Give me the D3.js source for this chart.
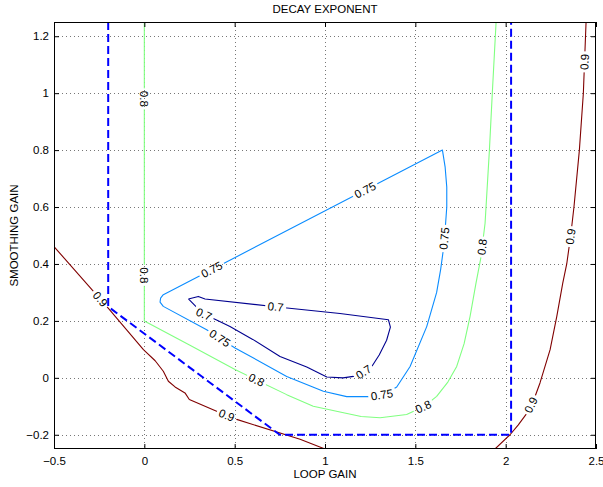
<!DOCTYPE html>
<html>
<head>
<meta charset="utf-8">
<script src="https://cdn.jsdelivr.net/npm/d3@7"></script>
<style>
  body { margin: 0; background: #fff; }
  svg { display: block; font-family: "Liberation Sans", Arial, Helvetica, sans-serif; }
</style>
</head>
<body>
<svg id="chart" width="603" height="487"></svg>
<script>
// axis ticks
const xTicks = [-0.5, 0, 0.5, 1, 1.5, 2, 2.5];
const yTicks = [-0.2, 0, 0.2, 0.4, 0.6, 0.8, 1, 1.2];

// contour levels, each line is a list of [loop gain, smoothing gain]
const contour07 = [[0.244,0.277],[0.299,0.286],[0.336,0.277],[0.75,0.248],[1.083,0.226],[1.351,0.204],
  [1.362,0.178],[1.341,0.132],[1.30,0.08],[1.259,0.04],[1.212,0.02],[1.157,0.005],[1.10,0.0],[1.01,0.003],
  [0.899,0.038],[0.751,0.075],[0.60,0.135],[0.474,0.18],[0.40,0.203],[0.327,0.224],[0.244,0.277]];

const contour075 = [[0.105,0.292],[1.65,0.80],[1.665,0.74],[1.674,0.67],[1.674,0.60],[1.665,0.52],
  [1.655,0.45],[1.64,0.38],[1.618,0.30],[1.563,0.18],[1.471,0.04],[1.397,-0.032],[1.33,-0.058],
  [1.249,-0.066],[1.12,-0.066],[0.991,-0.047],[0.788,0.005],[0.502,0.105],[0.345,0.169],[0.105,0.251],
  [0.087,0.266],[0.09,0.28],[0.105,0.292]];

const contour08 = [[0,1.25],[0,0.2],[0.25,0.115],[0.502,0.029],[0.788,-0.059],[0.935,-0.1],[1.083,-0.12],
  [1.2,-0.136],[1.305,-0.14],[1.452,-0.129],[1.55,-0.1],[1.618,-0.065],[1.68,-0.015],[1.729,0.04],
  [1.77,0.12],[1.803,0.216],[1.835,0.33],[1.862,0.42],[1.886,0.543],[1.91,0.80],[1.926,1.0],[1.947,1.25]];

const contour09Left = [[-0.5,0.461],[-0.2,0.245],[-0.005,0.099],[0.06,0.06],[0.105,0.023],[0.133,-0.012],
  [0.17,-0.032],[0.225,-0.053],[0.249,-0.076],[0.40,-0.117],[0.511,-0.146],[0.862,-0.216],[1.0,-0.25]];

const contour09Right = [[1.941,-0.25],[2.024,-0.2],[2.07,-0.165],[2.117,-0.125],[2.16,-0.07],[2.19,-0.018],
  [2.246,0.099],[2.283,0.216],[2.316,0.333],[2.338,0.40],[2.36,0.50],[2.378,0.60],[2.408,0.80],
  [2.43,1.0],[2.445,1.25]];

// where the inline level labels sit
const labels07 = [[0.336,0.232],[0.727,0.25],[1.212,0.022]];
const labels075 = [[0.373,0.38],[1.222,0.66],[1.652,0.49],[1.314,-0.057],[0.419,0.14]];
const labels08 = [[0,0.98],[0,0.36],[0.622,-0.006],[1.544,-0.102],[1.867,0.46]];
const labels09 = [[-0.249,0.274],[0.456,-0.131],[2.139,-0.095],[2.36,0.496],[2.434,1.11]];

// stability boundary (dashed)
const boundary = [[-0.2,1.25],[-0.2,0.25],[0.75,-0.2],[2.03,-0.2],[2.03,1.25]];

const levels = [0.7, 0.75, 0.8, 0.9];
const levelColors = ["#00008f", "#0a8cff", "#80ff80", "#800000"];
const levelLines = [[contour07], [contour075], [contour08], [contour09Left, contour09Right]];
const levelLabels = [labels07, labels075, labels08, labels09];

const W = 603, H = 487;
const margin = {top: 22, right: 7, bottom: 38, left: 54};
const fontSize = 11.5;

const svg = d3.select("#chart");

const x = d3.scaleLinear().domain([-0.5, 2.5]).range([margin.left, W - margin.right]);
const y = d3.scaleLinear().domain([-0.25, 1.25]).range([H - margin.bottom, margin.top]);

const defs = svg.append("defs");
defs.append("clipPath").attr("id", "plotClip")
    .append("rect")
    .attr("x", margin.left).attr("y", margin.top)
    .attr("width", W - margin.left - margin.right)
    .attr("height", H - margin.top - margin.bottom);

// dotted grid
const grid = svg.append("g")
    .attr("stroke", "#777")
    .attr("stroke-width", 1)
    .attr("stroke-dasharray", "1,3");
grid.selectAll("line.gx")
    .data(xTicks.slice(1, -1))
    .join("line")
    .attr("x1", d => Math.round(x(d)) + 0.5).attr("x2", d => Math.round(x(d)) + 0.5)
    .attr("y1", margin.top).attr("y2", H - margin.bottom);
grid.selectAll("line.gy")
    .data(yTicks)
    .join("line")
    .attr("y1", d => Math.round(y(d)) + 0.5).attr("y2", d => Math.round(y(d)) + 0.5)
    .attr("x1", margin.left).attr("x2", W - margin.right);

// mask that cuts gaps in the contour lines under the labels
const mask = defs.append("mask").attr("id", "labelGaps")
    .attr("maskUnits", "userSpaceOnUse")
    .attr("x", 0).attr("y", 0).attr("width", W).attr("height", H);
mask.append("rect").attr("width", W).attr("height", H).attr("fill", "#fff");

const line = d3.line().x(d => x(d[0])).y(d => y(d[1]));

const contourG = svg.append("g")
    .attr("clip-path", "url(#plotClip)")
    .append("g")
    .attr("mask", "url(#labelGaps)");

levels.forEach((lv, i) => {
    contourG.selectAll(null)
        .data(levelLines[i])
        .join("path")
        .attr("d", line)
        .attr("fill", "none")
        .attr("stroke", levelColors[i])
        .attr("stroke-width", 1.1)
        .attr("stroke-linejoin", "round");
});

// boundary
svg.append("path")
    .attr("clip-path", "url(#plotClip)")
    .attr("d", line(boundary))
    .attr("fill", "none")
    .attr("stroke", "#0000ff")
    .attr("stroke-width", 2)
    .attr("stroke-dasharray", "8,4");

/**
 * Snap a label to the nearest segment of the level's lines and get the text angle.
 */
function placeLabel(lines, p) {
    let best = null;
    for (let pts of lines) {
        let px = pts.map(d => [x(d[0]), y(d[1])]);
        for (let k = 0; k < px.length - 1; k++) {
            let a = px[k], b = px[k + 1];
            let dx = b[0] - a[0], dy = b[1] - a[1];
            let len2 = dx * dx + dy * dy;
            let t = len2 ? ((p[0] - a[0]) * dx + (p[1] - a[1]) * dy) / len2 : 0;
            t = Math.max(0, Math.min(1, t));
            let q = [a[0] + t * dx, a[1] + t * dy];
            let dist = (q[0] - p[0]) ** 2 + (q[1] - p[1]) ** 2;
            if (!best || dist < best.dist) best = {dist, q, ang: Math.atan2(dy, dx) * 180 / Math.PI};
        }
    }
    let ang = best.ang;
    if (ang > 90) ang -= 180;
    if (ang <= -90) ang += 180;
    return {x: best.q[0], y: best.q[1], ang};
}

const labelG = svg.append("g")
    .attr("font-size", fontSize)
    .attr("fill", "#000")
    .attr("text-anchor", "middle");

levels.forEach((lv, i) => {
    for (let pos of levelLabels[i]) {
        let pl = placeLabel(levelLines[i], [x(pos[0]), y(pos[1])]);
        let tr = `translate(${pl.x},${pl.y}) rotate(${pl.ang})`;
        let t = labelG.append("text")
            .attr("transform", tr)
            .attr("dy", "0.35em")
            .text(String(lv));
        let w = t.node().getComputedTextLength() + 5;
        mask.append("rect")
            .attr("transform", tr)
            .attr("x", -w / 2).attr("y", -5)
            .attr("width", w).attr("height", 10)
            .attr("fill", "#000");
    }
});

// axes with inward ticks on all four sides
const fmt = d3.format("~g");

function styleAxis(g) {
    g.select(".domain").remove();
    g.attr("font-size", null).attr("font-family", null);
    g.selectAll("line").attr("stroke", "#000");
    g.selectAll("text").attr("fill", "#000").style("font-size", fontSize + "px");
}

svg.append("g")
    .attr("transform", `translate(0,${H - margin.bottom})`)
    .call(d3.axisBottom(x).tickValues(xTicks).tickFormat(fmt).tickSize(-5).tickPadding(8))
    .call(styleAxis);
svg.append("g")
    .attr("transform", `translate(0,${margin.top})`)
    .call(d3.axisTop(x).tickValues(xTicks).tickFormat("").tickSize(-5))
    .call(styleAxis);
svg.append("g")
    .attr("transform", `translate(${margin.left},0)`)
    .call(d3.axisLeft(y).tickValues(yTicks).tickFormat(fmt).tickSize(-5).tickPadding(5))
    .call(styleAxis);
svg.append("g")
    .attr("transform", `translate(${W - margin.right},0)`)
    .call(d3.axisRight(y).tickValues(yTicks).tickFormat("").tickSize(-5))
    .call(styleAxis);

svg.append("rect")
    .attr("x", margin.left + 0.5).attr("y", margin.top + 0.5)
    .attr("width", W - margin.left - margin.right - 1)
    .attr("height", H - margin.top - margin.bottom - 1)
    .attr("fill", "none")
    .attr("stroke", "#000")
    .attr("stroke-width", 1);

// titles
const plotMid = (margin.left + W - margin.right) / 2;
svg.append("text")
    .attr("x", plotMid).attr("y", 13)
    .attr("text-anchor", "middle")
    .attr("font-size", fontSize)
    .text("DECAY EXPONENT");
svg.append("text")
    .attr("x", plotMid).attr("y", 478)
    .attr("text-anchor", "middle")
    .attr("font-size", fontSize)
    .text("LOOP GAIN");
svg.append("text")
    .attr("transform", `translate(18,${(margin.top + H - margin.bottom) / 2}) rotate(-90)`)
    .attr("text-anchor", "middle")
    .attr("font-size", fontSize)
    .text("SMOOTHING GAIN");
</script>
</body>
</html>
